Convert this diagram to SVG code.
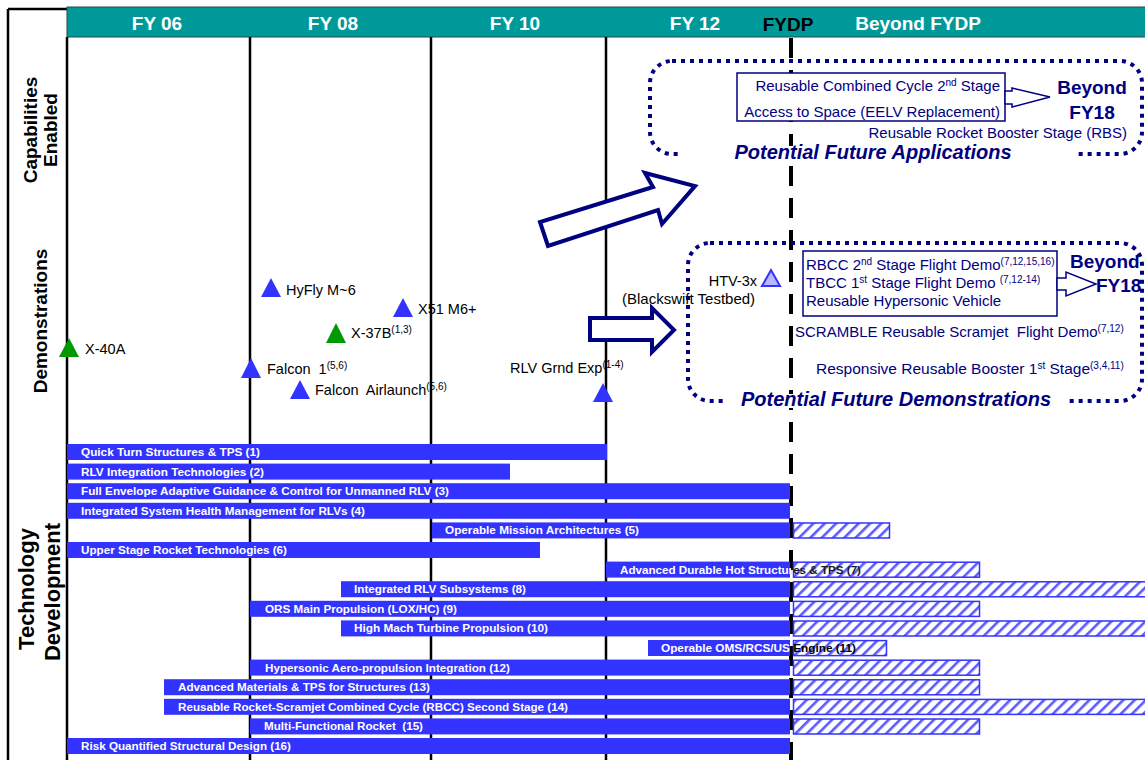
<svg xmlns="http://www.w3.org/2000/svg" width="1145" height="760" viewBox="0 0 1145 760">
<style>
.hdr{font-family:"Liberation Sans",Arial,sans-serif;font-weight:bold;font-size:19px;fill:#fff;text-anchor:middle}
.side{font-family:"Liberation Sans",Arial,sans-serif;font-weight:bold;font-size:19px;fill:#000;text-anchor:middle}
.side2{font-family:"Liberation Sans",Arial,sans-serif;font-weight:bold;font-size:22px;fill:#000;text-anchor:middle}
.grid{stroke:#000;stroke-width:2.5}
.dem{font-family:"Liberation Sans",Arial,sans-serif;font-size:14.5px;fill:#000}
.nv{font-family:"Liberation Sans",Arial,sans-serif;font-size:15px;fill:#000080}
.sup{font-size:10px}
.big{font-family:"Liberation Sans",Arial,sans-serif;font-weight:bold;font-size:19px;fill:#000080}
.pf{font-family:"Liberation Sans",Arial,sans-serif;font-weight:bold;font-style:italic;font-size:20px;fill:#000080;text-anchor:middle}
.dot{fill:none;stroke:#000080;stroke-width:4;stroke-dasharray:4 5}
.bar{fill:#3333ff}
.hatch{fill:url(#hp);stroke:#3333ff;stroke-width:1.5}
.bl{font-family:"Liberation Sans",Arial,sans-serif;font-weight:bold;font-size:11px;fill:#fff}
.bld{font-family:"Liberation Sans",Arial,sans-serif;font-weight:bold;font-size:11px;fill:#1a1a1a}
.tb{fill:#3333ff}
.tg{fill:#009900}
.harrow{fill:#fff;stroke:#000080;stroke-width:4;stroke-linejoin:miter}
.sarrow{fill:#fff;stroke:#000080;stroke-width:1.5}
</style>
<defs>
<pattern id="hp" patternUnits="userSpaceOnUse" width="8" height="8" patternTransform="rotate(45)">
<rect width="8" height="8" fill="#fff"/>
<rect width="2.6" height="8" fill="#5a5aff"/>
</pattern>
<clipPath id="cl"><rect x="0" y="0" width="791" height="760"/></clipPath>
<clipPath id="cr"><rect x="791" y="0" width="354" height="760"/></clipPath>
</defs>
<rect width="1145" height="760" fill="#fff"/>

<g id="frame">
<line x1="8" y1="9" x2="8" y2="760" stroke="#000" stroke-width="2.5"/>
<line x1="8" y1="9" x2="67" y2="9" stroke="#000" stroke-width="2.5"/>
<rect x="67" y="7" width="1080" height="30" fill="#009999" stroke="#2a4a4a" stroke-width="1"/>
<text class="hdr" x="157" y="30">FY 06</text>
<text class="hdr" x="333" y="30">FY 08</text>
<text class="hdr" x="515" y="30">FY 10</text>
<text class="hdr" x="695" y="30">FY 12</text>
<text class="hdr" x="788" y="31" style="fill:#000">FYDP</text>
<text class="hdr" x="918" y="30">Beyond FYDP</text>
<line class="grid" x1="67" y1="37" x2="67" y2="760"/>
<line class="grid" x1="250" y1="37" x2="250" y2="760"/>
<line class="grid" x1="431" y1="37" x2="431" y2="760"/>
<line class="grid" x1="606" y1="37" x2="606" y2="760"/>
<line x1="791" y1="38" x2="791" y2="760" stroke="#000" stroke-width="4" stroke-dasharray="20 12"/>
</g>

<g id="side-labels">
<text class="side" transform="translate(37,130) rotate(-90)">Capabilities</text>
<text class="side" transform="translate(57,130) rotate(-90)">Enabled</text>
<text class="side" transform="translate(47,321) rotate(-90)">Demonstrations</text>
<text class="side2" transform="translate(34,589) rotate(-90)">Technology</text>
<text class="side2" transform="translate(60,592) rotate(-90)">Development</text>
</g>

<g id="capabilities">
<rect class="dot" x="650" y="61" width="492" height="93" rx="22"/>
<rect x="680" y="146" width="394" height="14" fill="#fff"/>
<text class="pf" x="873" y="159">Potential Future Applications</text>
<rect x="737" y="73" width="268" height="48" fill="#fff" stroke="#000080" stroke-width="1.5"/>
<text class="nv" x="1000" y="91" text-anchor="end">Reusable Combined Cycle 2<tspan class="sup" dy="-5">nd</tspan><tspan dy="5"> Stage</tspan></text>
<text class="nv" x="1000" y="117" text-anchor="end">Access to Space (EELV Replacement)</text>
<polygon class="sarrow" points="1005,91 1012,91 1012,88 1050,97 1012,107 1012,104 1005,104"/>
<text class="big" x="1092" y="94" text-anchor="middle">Beyond</text>
<text class="big" x="1092" y="119" text-anchor="middle">FY18</text>
<text class="nv" x="1127" y="138" text-anchor="end">Reusable Rocket Booster Stage (RBS)</text>
</g>

<g id="arrows">
<polygon class="harrow" points="548,246 540,222 653,187 645,173 695,186 662,224 658,210"/>
<polygon class="harrow" points="590,318 652,318 652,308 674,330 652,352 652,340 590,340"/>
</g>

<g id="demonstrations">
<text class="dem" x="622" y="304" style="font-size:15px">(Blackswift Testbed)</text>
<rect class="dot" x="688" y="243" width="454" height="158" rx="22"/>
<rect x="725" y="394" width="343" height="14" fill="#fff"/>
<text class="pf" x="896" y="406">Potential Future Demonstrations</text>
<text class="dem" x="757" y="286" text-anchor="end">HTV-3x</text>
<polygon points="771,270 780,286 762,286" fill="#b8b8ff" stroke="#3333ff" stroke-width="2"/>
<rect x="803" y="251" width="254" height="65" fill="#fff" stroke="#000080" stroke-width="1.5"/>
<text class="nv" x="806" y="270">RBCC 2<tspan class="sup" dy="-5">nd</tspan><tspan dy="5"> Stage Flight Demo</tspan><tspan class="sup" dy="-5">(7,12,15,16)</tspan></text>
<text class="nv" x="806" y="288" xml:space="preserve">TBCC 1<tspan class="sup" dy="-5">st</tspan><tspan dy="5"> Stage Flight Demo </tspan><tspan class="sup" dy="-5">(7,12-14)</tspan></text>
<text class="nv" x="806" y="306">Reusable Hypersonic Vehicle</text>
<polygon class="sarrow" points="1057,278 1066,278 1066,272 1096,284 1066,296 1066,290 1057,290"/>
<text class="big" x="1070" y="268">Beyond</text>
<text class="big" x="1096" y="292">FY18</text>
<text class="nv" x="795" y="337" xml:space="preserve">SCRAMBLE Reusable Scramjet  Flight Demo<tspan class="sup" dy="-5">(7,12)</tspan></text>
<text class="nv" x="816" y="374" style="font-size:15.5px">Responsive Reusable Booster 1<tspan class="sup" dy="-5">st</tspan><tspan dy="5"> Stage</tspan><tspan class="sup" dy="-5">(3,4,11)</tspan></text>
</g>

<g id="demo-milestones">
<polygon class="tg" points="69,338 79,357 59,357"/>
<text class="dem" x="85" y="354">X-40A</text>
<polygon class="tb" points="271,278 281,297 261,297"/>
<text class="dem" x="286" y="295">HyFly M~6</text>
<polygon class="tb" points="403,298 413,317 393,317"/>
<text class="dem" x="418" y="314">X51 M6+</text>
<polygon class="tg" points="336,323 346,343 326,343"/>
<text class="dem" x="351" y="338">X-37B<tspan class="sup" dy="-5">(1,3)</tspan></text>
<polygon class="tb" points="251,358 261,378 241,378"/>
<text class="dem" x="267" y="374" xml:space="preserve">Falcon  1<tspan class="sup" dy="-5">(5,6)</tspan></text>
<polygon class="tb" points="300,380 310,399 290,399"/>
<text class="dem" x="315" y="395" xml:space="preserve">Falcon  Airlaunch<tspan class="sup" dy="-5">(5,6)</tspan></text>
<text class="dem" x="510" y="373">RLV Grnd Exp<tspan class="sup" dy="-5">(1-4)</tspan></text>
<polygon class="tb" points="603,383 613,402 593,402"/>
</g>

<g id="technology-bars">
<rect class="bar" x="67" y="444" width="540" height="16"/>
<text class="bl" x="81" y="456" textLength="179" lengthAdjust="spacingAndGlyphs">Quick Turn Structures &amp; TPS (1)</text>
<rect class="bar" x="67" y="463.6" width="443" height="16"/>
<text class="bl" x="81" y="475.6" textLength="183" lengthAdjust="spacingAndGlyphs">RLV Integration Technologies (2)</text>
<rect class="bar" x="67" y="483.2" width="723" height="16"/>
<text class="bl" x="81" y="495.2" textLength="368" lengthAdjust="spacingAndGlyphs">Full Envelope Adaptive Guidance &amp; Control for Unmanned RLV (3)</text>
<rect class="bar" x="67" y="502.8" width="723" height="16"/>
<text class="bl" x="81" y="514.8" textLength="284" lengthAdjust="spacingAndGlyphs">Integrated System Health Management for RLVs (4)</text>
<rect class="bar" x="432" y="522.4" width="358" height="16"/>
<rect class="hatch" x="793.5" y="523" width="96" height="15"/>
<text class="bl" x="445" y="534.4" textLength="194" lengthAdjust="spacingAndGlyphs">Operable Mission Architectures (5)</text>
<rect class="bar" x="67" y="542" width="473" height="16"/>
<text class="bl" x="81" y="554" textLength="206" lengthAdjust="spacingAndGlyphs">Upper Stage Rocket Technologies (6)</text>
<rect class="bar" x="606" y="561.6" width="184" height="16"/>
<rect class="hatch" x="793.5" y="562.2" width="186" height="15"/>
<text class="bl" x="620" y="573.6" textLength="241" lengthAdjust="spacingAndGlyphs" clip-path="url(#cl)">Advanced Durable Hot Structures &amp; TPS (7)</text>
<text class="bld" x="620" y="573.6" textLength="241" lengthAdjust="spacingAndGlyphs" clip-path="url(#cr)">Advanced Durable Hot Structures &amp; TPS (7)</text>
<rect class="bar" x="341" y="581.2" width="449" height="16"/>
<rect class="hatch" x="793.5" y="581.8" width="353" height="15"/>
<text class="bl" x="354" y="593.2" textLength="172" lengthAdjust="spacingAndGlyphs">Integrated RLV Subsystems (8)</text>
<rect class="bar" x="250" y="600.8" width="540" height="16"/>
<rect class="hatch" x="793.5" y="601.4" width="186" height="15"/>
<text class="bl" x="265" y="612.8" textLength="192" lengthAdjust="spacingAndGlyphs">ORS Main Propulsion (LOX/HC) (9)</text>
<rect class="bar" x="341" y="620.4" width="449" height="16"/>
<rect class="hatch" x="793.5" y="621" width="353" height="15"/>
<text class="bl" x="354" y="632.4" textLength="194" lengthAdjust="spacingAndGlyphs">High Mach Turbine Propulsion (10)</text>
<rect class="bar" x="648" y="640" width="142" height="16"/>
<rect class="hatch" x="793.5" y="640.6" width="93" height="15"/>
<text class="bl" x="661" y="652" textLength="195" lengthAdjust="spacingAndGlyphs" clip-path="url(#cl)">Operable OMS/RCS/US Engine (11)</text>
<text class="bld" x="661" y="652" textLength="195" lengthAdjust="spacingAndGlyphs" clip-path="url(#cr)" style="fill:#000">Operable OMS/RCS/US Engine (11)</text>
<rect class="bar" x="250" y="659.6" width="540" height="16"/>
<rect class="hatch" x="793.5" y="660.2" width="186" height="15"/>
<text class="bl" x="265" y="671.6" textLength="245" lengthAdjust="spacingAndGlyphs">Hypersonic Aero-propulsion Integration (12)</text>
<rect class="bar" x="164" y="679.2" width="626" height="16"/>
<rect class="hatch" x="793.5" y="679.8" width="186" height="15"/>
<text class="bl" x="178" y="691.2" textLength="252" lengthAdjust="spacingAndGlyphs">Advanced Materials &amp; TPS for Structures (13)</text>
<rect class="bar" x="164" y="698.8" width="626" height="16"/>
<rect class="hatch" x="793.5" y="699.4" width="353" height="15"/>
<text class="bl" x="178" y="710.8" textLength="390" lengthAdjust="spacingAndGlyphs">Reusable Rocket-Scramjet Combined Cycle (RBCC) Second Stage (14)</text>
<rect class="bar" x="250" y="718.4" width="540" height="16"/>
<rect class="hatch" x="793.5" y="719" width="186" height="15"/>
<text class="bl" x="264" y="730.4" textLength="159" lengthAdjust="spacingAndGlyphs" xml:space="preserve">Multi-Functional Rocket  (15)</text>
<rect class="bar" x="67" y="738" width="723" height="16"/>
<text class="bl" x="81" y="750" textLength="210" lengthAdjust="spacingAndGlyphs">Risk Quantified Structural Design (16)</text>
</g>
</svg>
